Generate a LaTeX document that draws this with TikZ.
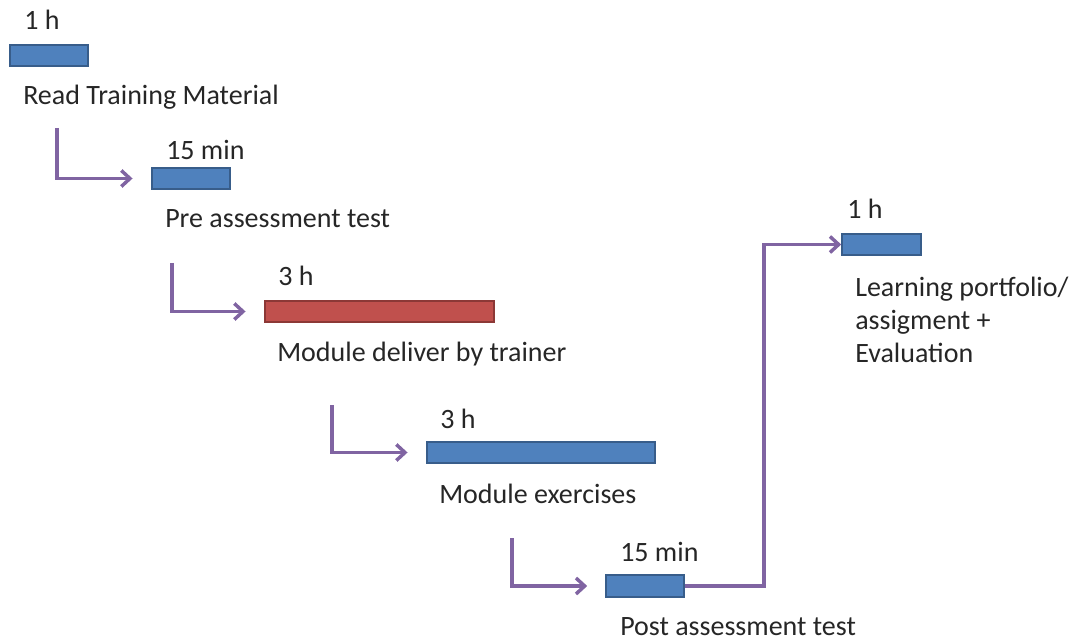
\documentclass[tikz,border=0pt]{standalone}
\usepackage{fontspec}
\setmainfont{Carlito}
\usetikzlibrary{arrows.meta}
\definecolor{barblue}{HTML}{4F81BD}
\definecolor{barblueline}{HTML}{385D8A}
\definecolor{barred}{HTML}{C0504D}
\definecolor{barredline}{HTML}{8C3836}
\definecolor{flowpurple}{HTML}{8064A2}
\tikzset{
  bluebar/.style={draw=barblueline, fill=barblue, line width=1.2pt},
  redbar/.style={draw=barredline, fill=barred, line width=1.2pt},
  lbl/.style={anchor=base west, inner sep=0pt, font=\fontsize{21}{25}\selectfont, text=black!85},
  flow/.style={draw=flowpurple, line width=2.6pt, -{Straight Barb[length=6.5pt,width=12pt]}},
}
\begin{document}
\begin{tikzpicture}[x=0.75pt,y=-0.75pt]
\useasboundingbox (0,0) rectangle (1081,641);
% bars
\node[bluebar, minimum width=58.5pt, minimum height=15.75pt, inner sep=0pt] (b1) at (49,55.5) {};
\node[bluebar, minimum width=58.5pt, minimum height=15.75pt, inner sep=0pt] (b2) at (191,178.5) {};
\node[redbar, minimum width=171.75pt, minimum height=15.75pt, inner sep=0pt] (b3) at (379.5,311.5) {};
\node[bluebar, minimum width=171pt, minimum height=15.75pt, inner sep=0pt] (b4) at (541,452.5) {};
\node[bluebar, minimum width=58.5pt, minimum height=16.5pt, inner sep=0pt] (b5) at (645,586) {};
\node[bluebar, minimum width=59.25pt, minimum height=15.75pt, inner sep=0pt] (b6) at (881.5,244.5) {};
% labels
\node[lbl] (t1) at (24,30) {1 h};
\node[lbl] (n1) at (23,105) {Read Training Material};
\node[lbl] (t2) at (166,160) {15 min};
\node[lbl] (n2) at (165,228) {Pre assessment test};
\node[lbl] (t3) at (278,286) {3 h};
\node[lbl] (n3) at (277,362) {Module deliver by trainer};
\node[lbl] (t4) at (440,428) {3 h};
\node[lbl] (n4) at (439,503) {Module exercises};
\node[lbl] (t5) at (620,561) {15 min};
\node[lbl] (n5) at (620,635) {Post assessment test};
\node[lbl] (t6) at (847,219) {1 h};
\node[lbl, align=left] (n6) at (855,363) {Learning portfolio/\\assigment +\\Evaluation};
% connector start points
\coordinate (s1) at (57,128);
\coordinate (s2) at (172,263);
\coordinate (s3) at (332,405);
\coordinate (s4) at (512,538);
\coordinate (turn) at (764,400);
% connectors
\draw[flow, shorten >=14pt] (s1) |- (b2.west);
\draw[flow, shorten >=14pt] (s2) |- (b3.west);
\draw[flow, shorten >=14pt] (s3) |- (b4.west);
\draw[flow, shorten >=13.5pt] (s4) |- (b5.west);
\draw[flow] (b5.east) -| (turn) |- (b6.west);
\end{tikzpicture}
\end{document}
